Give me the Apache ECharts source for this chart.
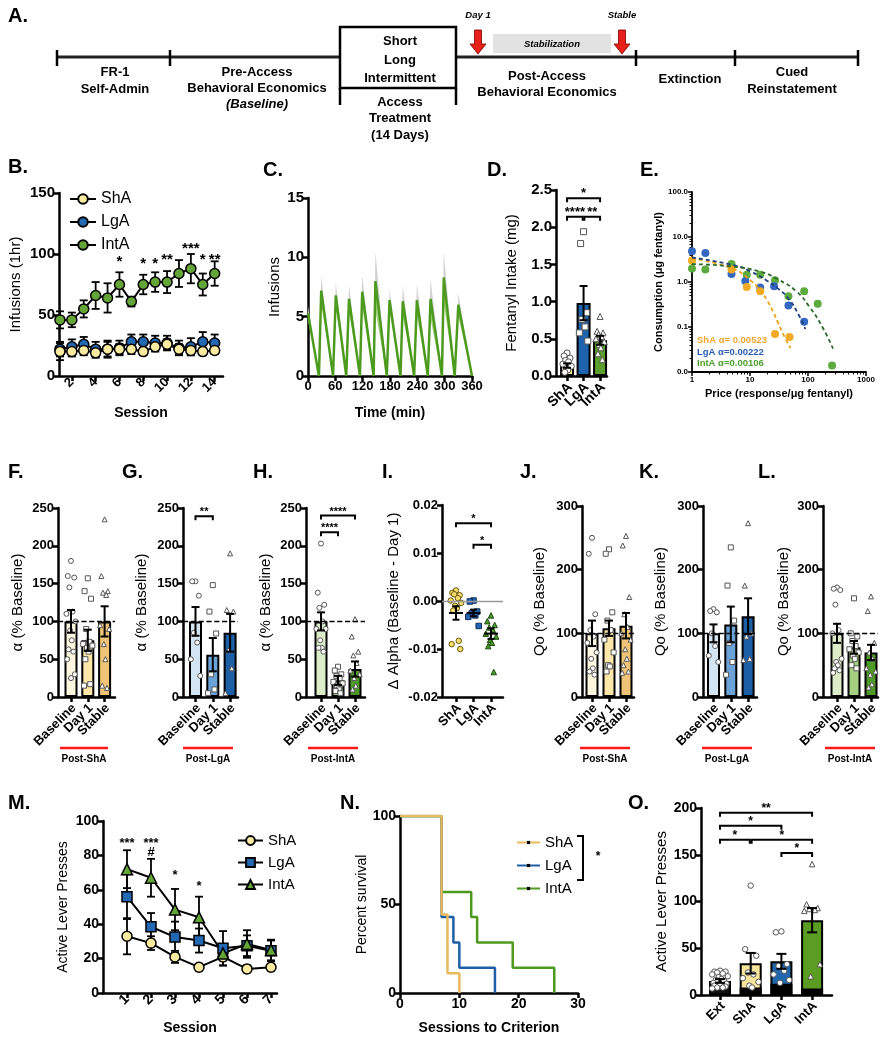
<!DOCTYPE html>
<html><head><meta charset="utf-8">
<script src="https://cdn.jsdelivr.net/npm/echarts@6.0.0/dist/echarts.min.js"></script>
<style>html,body{margin:0;padding:0;background:#fff}#c{width:895px;height:1040px}</style>
</head><body><div id="c"></div>
<script>
// ================= DATA =================
// Panel B: infusions per 1-hr session
const bSession = [1,2,3,4,5,6,7,8,9,10,11,12,13,14];
const bShA     = [20,20,21,19,22,22,22,20,24,26,22,21,20,21];
const bShASem  = [7,4,4,4,7,4,4,3,4,4,4,4,3,3];
const bLgA     = [22,24,26,22,22,23,28,28,27,27,23,24,28,27];
const bLgASem  = [6,6,6,6,6,6,6,6,6,6,6,7,8,7];
const bIntA    = [46,46,55,66,64,75,61,75,77,77,84,88,75,84];
const bIntASem = [7,6,7,11,12,10,4,8,8,9,11,12,9,10];
const bStars   = [[6,97,'*'],[8,95,'*'],[9,95,'*'],[10,98,'**'],[12,107,'***'],[13,98,'*'],[14,98,'**']];
// Panel C: IntA within-session pattern
const cTime = [0,24,29,55,61,84,90,114,119,144,148,173,179,203,208,233,239,263,269,294,298,322,330,360];
const cMean = [5.3,0,7.2,0,6.8,0,6.5,0,7.1,0,8.0,0,6.4,0,6.3,0,6.4,0,6.5,0,8.3,0,6.0,0];
const cSem  = [0.6,0,1.2,0,1.1,0,1.2,0,1.4,0,2.5,0,0.9,0,1.3,0,1.4,0,1.7,0,2.2,0,1.0,0];
// Panel D: fentanyl intake
const dGroups = ['ShA','LgA','IntA'];
const dMean = [0.14,0.98,0.48];
const dSem  = [0.03,0.23,0.06];
const dShA  = [0.31,0.27,0.24,0.21,0.19,0.16,0.13,0.10,0.08,0.05];
const dLgA  = [1.94,1.78,0.85,0.76,0.66,0.58,0.47];
const dIntA = [0.80,0.60,0.58,0.56,0.53,0.50,0.46,0.42,0.38,0.30,0.22];
const dBrackets = [[0,2,2.39,'*'],[0,0.95,2.14,'****'],[1.05,2,2.14,'**']];
// Panel E: demand curves
const eShAx = [1,4.8,8.8,15,27,48],            eShAy = [3.0,1.9,0.77,0.62,0.07,0.06];
const eLgAx = [1,1.7,4.8,8.3,15,26,46,86],     eLgAy = [4.8,4.4,1.5,1.05,0.75,0.8,0.3,0.13];
const eIntAx = [1,1.7,4.8,8.8,15,27,46,86,147,260], eIntAy = [2.0,1.9,2.5,1.45,1.45,1.1,0.48,0.62,0.33,0.014];
const fitShAx = [1,5,10,15,20,25,30,40,50],     fitShAy = [3.3,2.0,1.1,0.65,0.38,0.22,0.13,0.058,0.034];
const fitLgAx = [1,5,10,20,30,46,70,90],        fitLgAy = [3.5,2.4,1.75,1.05,0.72,0.43,0.18,0.09];
const fitIntAx = [1,5,15,30,63,106,177,270],    fitIntAy = [2.5,2.2,1.7,1.15,0.62,0.28,0.1,0.033];
const eAlpha = ['ShA \u03b1= 0.00523','LgA \u03b1=0.00222','IntA \u03b1=0.00106'];
// Panels F-H, J-L
const phases = ['Baseline','Day 1','Stable'];
const fMean=[100,75,100], fSem=[15,14,20];
const fBase=[180,160,158,145,113,110,100,88,75,63,60,50,30,25];
const fDay1=[157,140,130,90,73,70,68,65,60,50,17,15];
const fStable=[235,160,140,138,135,95,90,70,50,15,12];
const gMean=[100,56,85], gSem=[19,22,25];
const gBase=[153,153,134,85,72,50,28];
const gDay1=[148,113,84,30,10,5];
const gStable=[190,115,113,62,38,5];
const gBrackets=[[0,1,239,'**']];
const hMean=[100,22,37], hSem=[12,6,10];
const hBase=[203,138,122,118,100,90,90,75,65,65,60];
const hDay1=[40,35,30,28,25,20,18,15,10,8,5];
const hStable=[103,80,60,55,45,35,30,25,15,10];
const hBrackets=[[0,1,218,'****'],[0,2,240,'****']];
// Panel I: delta alpha
const iMean=[-0.0025,-0.0025,-0.0068], iSem=[0.0014,0.0007,0.0011];
const iShA=[0.0022,0.0017,0.0012,0.0014,0.0006,0.0001,-0.0004,-0.001,-0.0015,-0.002,-0.0083,-0.009,-0.0100];
const iLgA=[0.0001,-0.0001,-0.0022,-0.0026,-0.003,-0.0033,-0.0052];
const iIntA=[-0.003,-0.0042,-0.005,-0.0055,-0.006,-0.0068,-0.0074,-0.0081,-0.0087,-0.0094,-0.0148];
const iBrackets=[[0,2,0.0162,'*'],[1,2,0.0117,'*']];
const jMean=[100,108,112], jSem=[20,12,20];
const jBase=[250,225,130,105,95,85,70,60,45,40,35];
const jDay1=[232,225,133,120,105,90,70,50,48,40];
const jStable=[253,238,157,130,110,100,90,75,60,50,40,38];
const kMean=[100,114,127], kSem=[14,28,28];
const kBase=[138,135,133,100,80,65,55];
const kDay1=[235,175,120,85,55,35];
const kStable=[273,175,100,95,60,58];
const lMean=[100,78,70], lSem=[15,10,12];
const lBase=[172,170,168,145,105,100,60,55,50,45,42,38];
const lDay1=[155,100,95,88,80,75,70,65,60,50,45];
const lStable=[158,135,85,70,60,45,40,35,20,15];
// Panel M: extinction
const mSession=[1,2,3,4,5,6,7];
const mShA=[33,29,21,15,21,14,15],    mShASem=[10.5,4,3.5,2,5,2,2];
const mLgA=[56,38.5,32.5,30.5,26,27.5,24.5], mLgASem=[13,8,9,7,10,6,6];
const mIntA=[72,67,48.5,44,23,28.5,25], mIntASem=[11,11,12,12,4,8,6];
const mStars=[[1,89,'***'],[2,89,'***'],[2,82,'#'],[3,70,'*'],[4,64,'*']];
// Panel N: survival
const nShAx=[0,7,8,10],          nShAy=[100,44.4,11.1,0];
const nLgAx=[0,7,9,10,16],       nLgAy=[100,42.9,28.6,14.3,0];
const nIntAx=[0,7,12,13,19,26],  nIntAy=[100,57.1,42.9,28.6,14.3,0];
// Panel O: cued reinstatement
const oGroups=['Ext','ShA','LgA','IntA'];
const oMean=[15,34,36,80], oSem=[2,11,8,13], oBase=[0,8,12,7];
const oExt=[26,25,25,24,23,22,20,19,17,16,15,13,12,11,10,9,8,8,7];
const oShA=[117,49,42,24,22,18,14,10,8];
const oLgA=[68,67,33,31,26,22,16,13];
const oIntA=[140,97,93,92,91,90,33,20];
const oBrackets=[[0,3,195,'**'],[0,2,181,'*'],[0,0.97,166,'*'],[1.03,3,166,'*'],[2,3,152,'*']];

// ================= BUILD =================
const FONT = "'Liberation Sans', Arial, Helvetica, sans-serif";
const grid=[], xAxis=[], yAxis=[], series=[], legend=[], graphic=[];
function isObj(v){return v && typeof v==='object' && !Array.isArray(v);}
function merge(a,b){for(const k in b){ if(isObj(b[k]) && isObj(a[k])) merge(a[k],b[k]); else a[k]=b[k]; } return a;}
function axisBase(){ return {type:'value', axisLine:{show:true,onZero:false,lineStyle:{color:'#000',width:2.5}},
  axisTick:{show:true,length:5,lineStyle:{color:'#000',width:2.5}},
  axisLabel:{color:'#000',fontFamily:FONT,fontWeight:'bold',fontSize:13,margin:4,hideOverlap:false},
  splitLine:{show:false}, nameLocation:'middle', nameTextStyle:{color:'#000',fontFamily:FONT,fontSize:14}}; }
function addGrid(rect,xo,yo){ grid.push(Object.assign({containLabel:false,outerBoundsMode:'none'},rect));
  const i=grid.length-1;
  xAxis.push(merge(merge(axisBase(),{gridIndex:i,position:'bottom'}),xo));
  yAxis.push(merge(merge(axisBase(),{gridIndex:i,position:'left'}),yo)); return i; }
const JIT=[0,-0.6,0.6,-0.3,0.3,-0.85,0.85,-0.15,0.15,-0.45,0.45,-0.7,0.7];
function errBars(ai,xs,means,sems,cap,lw,z,meanHalf){
  return {type:'custom',xAxisIndex:ai,yAxisIndex:ai,silent:true,z:z||4,
    data:xs.map((x,i)=>[x,means[i],sems[i]]),
    renderItem:(p,api)=>{const x=api.value(0),m=api.value(1),e=api.value(2);
      const t=api.coord([x,m+e]),b=api.coord([x,m-e]),c=api.coord([x,m]);
      const st={stroke:'#000',lineWidth:lw||2};
      const ch=[{type:'line',shape:{x1:t[0],y1:t[1],x2:b[0],y2:b[1]},style:st},
        {type:'line',shape:{x1:t[0]-cap,y1:t[1],x2:t[0]+cap,y2:t[1]},style:st},
        {type:'line',shape:{x1:b[0]-cap,y1:b[1],x2:b[0]+cap,y2:b[1]},style:st}];
      if(meanHalf) ch.push({type:'line',shape:{x1:c[0]-meanHalf,y1:c[1],x2:c[0]+meanHalf,y2:c[1]},style:st});
      return {type:'group',children:ch};}};
}
function brackets(ai,list,drop,fs){
  return {type:'custom',xAxisIndex:ai,yAxisIndex:ai,silent:true,z:5,data:list.map(b=>[b[0],b[2],b[1]]),
    renderItem:(p,api)=>{const b=list[p.dataIndex];const p1=api.coord([b[0],b[2]]),p2=api.coord([b[1],b[2]]);
      return {type:'group',children:[
        {type:'polyline',shape:{points:[[p1[0],p1[1]+drop],[p1[0],p1[1]],[p2[0],p2[1]],[p2[0],p2[1]+drop]]},style:{stroke:'#000',lineWidth:2,fill:'none'}},
        {type:'text',x:(p1[0]+p2[0])/2,y:p1[1]+fs*0.15,style:{text:b[3],font:'bold '+fs+'px '+FONT,fill:'#000',align:'center',verticalAlign:'bottom',textAlign:'center',textVerticalAlign:'bottom'}}]};}};
}
function annot(ai,list,fs){
  return {type:'custom',xAxisIndex:ai,yAxisIndex:ai,silent:true,z:5,data:list.map(d=>[d[0],d[1]]),
    renderItem:(p,api)=>{const d=list[p.dataIndex];const pt=api.coord([d[0],d[1]]);
      const shift = d[2]==='#'?0:fs*0.25;
      return {type:'text',x:pt[0],y:pt[1]+shift,style:{text:d[2],font:'bold '+fs+'px '+FONT,fill:'#000',align:'center',verticalAlign:'middle',textAlign:'center',textVerticalAlign:'middle'}};}};
}
// rotated category labels placed at the axis positions of each group
function xLabels(ai,labels,ymin,fs){
  return {type:'custom',xAxisIndex:ai,yAxisIndex:ai,silent:true,z:5,data:labels.map((_,i)=>[i,ymin]),
    renderItem:(p,api)=>{const pt=api.coord([api.value(0),api.value(1)]);
      return {type:'text',x:pt[0]+3,y:pt[1]+9,rotation:Math.PI/4,
        style:{text:labels[p.dataIndex],font:'bold '+fs+'px '+FONT,fill:'#000',align:'right',verticalAlign:'middle',textAlign:'right',textVerticalAlign:'middle'}};}};
}
function lineSer(ai,name,xs,ys,color,symbol,size){
  return {type:'line',name,xAxisIndex:ai,yAxisIndex:ai,data:xs.map((x,i)=>[x,ys[i]]),symbol,symbolSize:size,showSymbol:true,
    lineStyle:{color:'#000',width:2},itemStyle:{color,borderColor:'#000',borderWidth:1.5},z:3,emphasis:{disabled:true},animation:false};
}
function barPanel(o){
  const idx=o.labels.map((_,i)=>i);
  const ai=addGrid(o.rect,
    {min:o.xmin,max:o.xmax,axisTick:{customValues:idx},axisLabel:{show:false}},
    {min:o.ymin,max:o.ymax,interval:o.yint,axisLabel:{formatter:o.yfmt,fontSize:o.ySize||13},name:o.yName,nameGap:o.nameGap,nameTextStyle:{fontSize:o.nameSize||14}});
  const ml = o.ref!=null ? {silent:true,symbol:'none',label:{show:false},lineStyle:{type:o.refType||'dashed',color:o.refColor||'#000',width:1.3},data:[{yAxis:o.ref}]} : undefined;
  if(o.means && o.colors){
    series.push({type:'bar',xAxisIndex:ai,yAxisIndex:ai,barWidth:o.barW,silent:true,z:2,markLine:ml,
      data:o.means.map((m,i)=>({value:[i,m],itemStyle:{color:o.colors[i]}})),itemStyle:{borderColor:'#000',borderWidth:2}});
    if(o.base){
      series.push({type:'bar',xAxisIndex:ai,yAxisIndex:ai,barWidth:o.barW,barGap:'-100%',silent:true,z:2,
        data:o.base.map((b,i)=>[i,b]),itemStyle:{color:'#000',borderColor:'#000',borderWidth:2}});
    }
  }
  o.points.forEach((arr,gi)=>{
    series.push({type:'scatter',xAxisIndex:ai,yAxisIndex:ai,silent:true,z:3,symbol:o.shapes[gi],symbolSize:o.ptSize||5,
      markLine:(!o.colors && gi===0)?ml:undefined,
      data:arr.map((v,k)=>[gi+JIT[k%JIT.length]*o.spread,v]),
      itemStyle:{color:o.ptFill?o.ptFill[gi]:'#fff',borderColor:o.ptBorder?o.ptBorder[gi]:'#555',borderWidth:1,opacity:1}});
  });
  series.push(errBars(ai,idx,o.means,o.sems,o.cap||4,2,4,o.meanHalf));
  if(o.brackets) series.push(brackets(ai,o.brackets,4,o.starSize||12));
  series.push(xLabels(ai,o.labels,o.ymin,o.labelSize||13));
  return ai;
}

// ---- Panel B ----
const aiB = addGrid({left:59,top:193,width:164,height:183},
  {min:0.92,max:14.7,axisTick:{customValues:[2,4,6,8,10,12,14]},axisLabel:{customValues:[2,4,6,8,10,12,14],rotate:45,fontSize:13},name:'Session',nameGap:30,nameTextStyle:{fontWeight:'bold',fontSize:14}},
  {min:0,max:150,interval:50,axisLabel:{fontSize:15},name:'Infusions (1hr)',nameGap:36,nameTextStyle:{fontSize:15}});
series.push(errBars(aiB,bSession,bLgA,bLgASem,4,1.8,2));
series.push(errBars(aiB,bSession,bShA,bShASem,4,1.8,2));
series.push(errBars(aiB,bSession,bIntA,bIntASem,4,1.8,2));
series.push(lineSer(aiB,'B:LgA',bSession,bLgA,'#2268B2','circle',10));
series.push(lineSer(aiB,'B:ShA',bSession,bShA,'#FAEBA0','circle',10));
series.push(lineSer(aiB,'B:IntA',bSession,bIntA,'#64A537','circle',10));
series.push(annot(aiB,bStars,15));
legend.push({left:64,top:186,orient:'vertical',itemWidth:26,itemHeight:12,itemGap:7,data:['B:ShA','B:LgA','B:IntA'],
  formatter:n=>n.split(':')[1],textStyle:{fontSize:16,fontFamily:FONT,color:'#000'},selectedMode:false});

// ---- Panel C ----
const aiC = addGrid({left:308,top:198,width:164,height:178},
  {min:0,max:360,interval:60,axisLabel:{fontSize:13},name:'Time (min)',nameGap:30,nameTextStyle:{fontWeight:'bold',fontSize:14}},
  {min:0,max:15,interval:5,axisLabel:{fontSize:15},name:'Infusions',nameGap:26,nameTextStyle:{fontSize:15}});
series.push({type:'custom',xAxisIndex:aiC,yAxisIndex:aiC,silent:true,z:1,data:[[0,0]],renderItem:(p,api)=>{
  const up=[],mid=[],lo=[];
  cTime.forEach((t,i)=>{up.push(api.coord([t,cMean[i]+cSem[i]]));mid.push(api.coord([t,cMean[i]]));lo.push(api.coord([t,Math.max(0,cMean[i]-cSem[i])]));});
  return {type:'group',children:[
    {type:'polygon',shape:{points:up.concat(mid.slice().reverse())},style:{fill:'#D2D2D2'}},
    {type:'polygon',shape:{points:mid.concat(lo.slice().reverse())},style:{fill:'#A3D27A'}}]};}});
series.push({type:'line',xAxisIndex:aiC,yAxisIndex:aiC,data:cTime.map((t,i)=>[t,cMean[i]]),symbol:'none',lineStyle:{color:'#4C9A1E',width:2.5},z:2,silent:true});

// ---- Panel D ----
barPanel({rect:{left:556,top:190,width:51,height:186},xmin:-0.67,xmax:2.42,ymin:0,ymax:2.5,yint:0.5,yfmt:v=>v.toFixed(1),ySize:15,
  labels:dGroups,labelSize:14,means:dMean,sems:dSem,colors:['#F8E89B','#1E63AD','#5A9E2B'],barW:14,
  points:[dShA,dLgA,dIntA],shapes:['circle','rect','triangle'],ptSize:6,spread:0.3,
  yName:'Fentanyl Intake (mg)',nameGap:37,nameSize:15,brackets:dBrackets,starSize:13,cap:4});

// ---- Panel E ----
const aiE = addGrid({left:692,top:192,width:174,height:180},
  {type:'log',logBase:10,min:1,max:1000,axisLine:{lineStyle:{width:1.8}},axisTick:{length:4,lineStyle:{width:1.5}},minorTick:{show:true,splitNumber:9,length:2.5,lineStyle:{color:'#000',width:1}},
   axisLabel:{fontSize:8,formatter:v=>String(Math.round(v))},name:'Price (response/\u03bcg fentanyl)',nameGap:16,nameTextStyle:{fontWeight:'bold',fontSize:11}},
  {type:'log',logBase:10,min:0.01,max:100,axisLine:{lineStyle:{width:1.8}},axisTick:{length:4,lineStyle:{width:1.5}},minorTick:{show:true,splitNumber:9,length:2.5,lineStyle:{color:'#000',width:1}},
   axisLabel:{fontSize:8,formatter:v=>Number(v).toFixed(1)},name:'Consumption (\u03bcg fentanyl)',nameGap:24,nameTextStyle:{fontWeight:'bold',fontSize:11}});
function eScatter(xs,ys,c){return {type:'scatter',xAxisIndex:aiE,yAxisIndex:aiE,silent:true,z:3,symbolSize:8,data:xs.map((x,i)=>[x,ys[i]]),itemStyle:{color:c,opacity:1}};}
function eFit(xs,ys,c){return {type:'line',xAxisIndex:aiE,yAxisIndex:aiE,silent:true,z:4,smooth:true,symbol:'none',data:xs.map((x,i)=>[x,ys[i]]),lineStyle:{color:c,width:1.8,type:[4,3]}};}
series.push(eScatter(eIntAx,eIntAy,'#5DAA3E'),eScatter(eLgAx,eLgAy,'#3468C0'),eScatter(eShAx,eShAy,'#F2AA22'));
series.push(eFit(fitShAx,fitShAy,'#E8A317'),eFit(fitLgAx,fitLgAy,'#1F3F7A'),eFit(fitIntAx,fitIntAy,'#2E6B2E'));

// ---- Panels F,G,H ----
const yShades=['#FFF6E0','#FCE6A8','#EFC477'], bShades=['#D3E4F3','#6BA3D8','#1C5FA6'], gShades=['#DDEDC9','#A4D07F','#4E9A27'];
const shp=['circle','rect','triangle'];
function ppuRange(axisX,b0,ppu,end){return {xmin:-(b0-axisX)/ppu, xmax:(end-b0)/ppu};}
function alphaPanel(left,b0,ppu,end,top,ymax,yint,means,sems,colors,pts,br,yName,gap){
  const r=ppuRange(left,b0,ppu,end);
  barPanel({rect:{left,top,width:end-left,height:697-top},xmin:r.xmin,xmax:r.xmax,ymin:0,ymax,yint,labels:phases,labelSize:13,
    means,sems,colors,barW:13,points:pts,shapes:shp,ptSize:5,spread:0.32,ref:100,yName,nameGap:gap,nameSize:15,brackets:br,starSize:11,cap:4});
}
alphaPanel(58,71,16.8,115,508,250,50,fMean,fSem,yShades,[fBase,fDay1,fStable],null,'\u03b1 (% Baseline)',33);
alphaPanel(183,195.5,17.3,238,508,250,50,gMean,gSem,bShades,[gBase,gDay1,gStable],gBrackets,'\u03b1 (% Baseline)',34);
alphaPanel(306,321,17,365,508,250,50,hMean,hSem,gShades,[hBase,hDay1,hStable],hBrackets,'\u03b1 (% Baseline)',33);

// ---- Panel I ----
(function(){const r=ppuRange(442,456,17.5,503);
  barPanel({rect:{left:442,top:505,width:61,height:192},xmin:r.xmin,xmax:r.xmax,ymin:-0.02,ymax:0.02,yint:0.01,yfmt:v=>v.toFixed(2),
    labels:dGroups,labelSize:13,means:iMean,sems:iSem,colors:null,points:[iShA,iLgA,iIntA],shapes:shp,ptSize:5.5,spread:0.35,
    ptFill:['#F6DC6E','#2565B0','#4A9A28'],ptBorder:['#6b5a10','#0b2e5a','#1e4a10'],ref:0,refType:'solid',refColor:'#9a9a9a',
    yName:'\u0394 Alpha (Baseline - Day 1)',nameGap:41,nameSize:15,brackets:iBrackets,starSize:11,cap:3.5,meanHalf:7});})();

// ---- Panels J,K,L ----
alphaPanel(582,592,17,634,506,300,100,jMean,jSem,yShades,[jBase,jDay1,jStable],null,'Qo (% Baseline)',35);
alphaPanel(703,713.5,17.3,757,506,300,100,kMean,kSem,bShades,[kBase,kDay1,kStable],null,'Qo (% Baseline)',35);
alphaPanel(823,837,17,878,506,300,100,lMean,lSem,gShades,[lBase,lDay1,lStable],null,'Qo (% Baseline)',32);

// ---- Panel M ----
const aiM = addGrid({left:103,top:821,width:174,height:172},
  {min:0,max:7.25,axisTick:{customValues:mSession},axisLabel:{customValues:mSession,rotate:45,fontSize:14},name:'Session',nameGap:28,nameTextStyle:{fontWeight:'bold',fontSize:14}},
  {min:0,max:100,interval:20,axisLabel:{fontSize:14},name:'Active Lever Presses',nameGap:33,nameTextStyle:{fontSize:14}});
series.push(errBars(aiM,mSession,mShA,mShASem,4,1.8,2));
series.push(errBars(aiM,mSession,mLgA,mLgASem,4,1.8,2));
series.push(errBars(aiM,mSession,mIntA,mIntASem,4,1.8,2));
series.push(lineSer(aiM,'M:ShA',mSession,mShA,'#FAEBA0','circle',10));
series.push(lineSer(aiM,'M:LgA',mSession,mLgA,'#2268B2','rect',10));
series.push(lineSer(aiM,'M:IntA',mSession,mIntA,'#64A537','triangle',11));
series.push(annot(aiM,mStars,13));
legend.push({left:232,top:828,orient:'vertical',itemWidth:25,itemHeight:11,itemGap:7,data:['M:ShA','M:LgA','M:IntA'],
  formatter:n=>n.split(':')[1],textStyle:{fontSize:15,fontFamily:FONT,color:'#000'},selectedMode:false});

// ---- Panel N ----
const aiN = addGrid({left:400,top:816,width:178,height:177},
  {min:0,max:30,interval:10,axisLabel:{fontSize:14},name:'Sessions to Criterion',nameGap:28,nameTextStyle:{fontWeight:'bold',fontSize:14}},
  {min:0,max:100,interval:50,axisLabel:{fontSize:14},name:'Percent survival',nameGap:31,nameTextStyle:{fontSize:14}});
function nLine(name,xs,ys,c){return {type:'line',name,xAxisIndex:aiN,yAxisIndex:aiN,step:'end',silent:true,z:3,data:xs.map((x,i)=>[x,ys[i]]),
  symbol:'rect',symbolSize:3,showSymbol:false,lineStyle:{color:c,width:2.5},itemStyle:{color:'#000'}};}
series.push(nLine('N:IntA',nIntAx,nIntAy,'#4E9A1E'),nLine('N:LgA',nLgAx,nLgAy,'#1F5FA8'),nLine('N:ShA',nShAx,nShAy,'#E8BA5E'));
legend.push({left:511,top:830,orient:'vertical',itemWidth:23,itemHeight:4,itemGap:8,data:['N:ShA','N:LgA','N:IntA'],
  formatter:n=>n.split(':')[1],textStyle:{fontSize:15,fontFamily:FONT,color:'#000',lineHeight:15},selectedMode:false});

// ---- Panel O ----
(function(){const r=ppuRange(701,720,30.7,832);
  barPanel({rect:{left:701,top:808,width:131,height:187},xmin:r.xmin,xmax:r.xmax,ymin:0,ymax:200,yint:50,ySize:14,
    labels:oGroups,labelSize:13,means:oMean,sems:oSem,base:oBase,colors:['#111','#F8E49A','#2067AE','#5B9C22'],barW:22,
    points:[oExt,oShA,oLgA,oIntA],shapes:['circle','circle','circle','triangle'],ptSize:5.5,spread:0.3,
    yName:'Active Lever Presses',nameGap:31,nameSize:15,brackets:oBrackets,starSize:12,cap:5});})();

// ================= GRAPHIC (panel letters, timeline, notes) =================
function T(x,y,text,size,opt){opt=opt||{};graphic.push({type:'text',silent:true,x,y,z:10,
  style:{text,font:(opt.italic?'italic ':'')+(opt.weight||'bold')+' '+size+'px '+FONT,fill:opt.color||'#000',
  align:opt.align||'center',verticalAlign:'middle',textAlign:opt.align||'center',textVerticalAlign:'middle'}});}
function L(x1,y1,x2,y2,w,c){graphic.push({type:'line',silent:true,z:10,shape:{x1,y1,x2,y2},style:{stroke:c||'#000',lineWidth:w}});}
[['A.',8,16],['B.',8,167],['C.',263,170],['D.',487,170],['E.',640,170],['F.',8,472],['G.',122,472],['H.',253,472],['I.',382,472],
 ['J.',520,472],['K.',639,472],['L.',758,472],['M.',8,803],['N.',340,803],['O.',628,803]].forEach(a=>T(a[1],a[2],a[0],20,{align:'left'}));
// timeline
L(57,57,340,57,3,'#222');L(456,57,858,57,3,'#222');
[57,170,636,735,858].forEach(x=>L(x,50,x,66,2.5));
graphic.push({type:'rect',silent:true,z:10,shape:{x:340,y:27,width:116,height:61},style:{fill:'none',stroke:'#000',lineWidth:2.5}});
L(340,88,340,105,2.5);L(456,88,456,105,2.5);
graphic.push({type:'rect',silent:true,z:9,shape:{x:493,y:34,width:118,height:19},style:{fill:'#E2E2E2'}});
function arrow(x){graphic.push({type:'polygon',silent:true,z:11,shape:{points:[[x-3.5,30],[x+3.5,30],[x+3.5,44],[x+8,44],[x,54],[x-8,44],[x-3.5,44]]},style:{fill:'#E8201A',stroke:'#7a0000',lineWidth:0.8}});}
arrow(478);arrow(622);
T(478,15,'Day 1',9.5,{italic:true});T(622,15,'Stable',9.5,{italic:true});T(552,44,'Stabilization',9.5,{italic:true});
T(115,72,'FR-1',13);T(115,89,'Self-Admin',13);
T(257,72,'Pre-Access',13);T(257,88,'Behavioral Economics',13);T(257,104,'(Baseline)',13,{italic:true});
T(400,41,'Short',13);T(400,60,'Long',13);T(400,78,'Intermittent',13);
T(400,102,'Access',13);T(400,118,'Treatment',13);T(400,135,'(14 Days)',13);
T(547,76,'Post-Access',13);T(547,92,'Behavioral Economics',13);
T(690,79,'Extinction',13);T(792,72,'Cued',13);T(792,89,'Reinstatement',13);
// E alpha notes
T(697,340,eAlpha[0],9.5,{align:'left',color:'#F0A830'});
T(697,352,eAlpha[1],9.5,{align:'left',color:'#2A5DB0'});
T(697,363,eAlpha[2],9.5,{align:'left',color:'#4EA02E'});
// post-access red bars
[[60,108,'Post-ShA'],[183,233,'Post-LgA'],[308,358,'Post-IntA'],[580,630,'Post-ShA'],[702,752,'Post-LgA'],[825,875,'Post-IntA']].forEach(r=>{
  L(r[0],748,r[1],748,2.5,'#FF1A1A');T((r[0]+r[1])/2,759,r[2],10);});
// N bracket
graphic.push({type:'polyline',silent:true,z:10,shape:{points:[[577,836],[583,836],[583,880],[577,880]]},style:{stroke:'#000',lineWidth:2,fill:'none'}});
T(598,857,'*',12);

const chart = echarts.init(document.getElementById('c'),null,{renderer:'canvas',width:895,height:1040});
chart.setOption({animation:false,backgroundColor:'#fff',textStyle:{fontFamily:FONT},grid,xAxis,yAxis,series,legend,graphic});
</script></body></html>
